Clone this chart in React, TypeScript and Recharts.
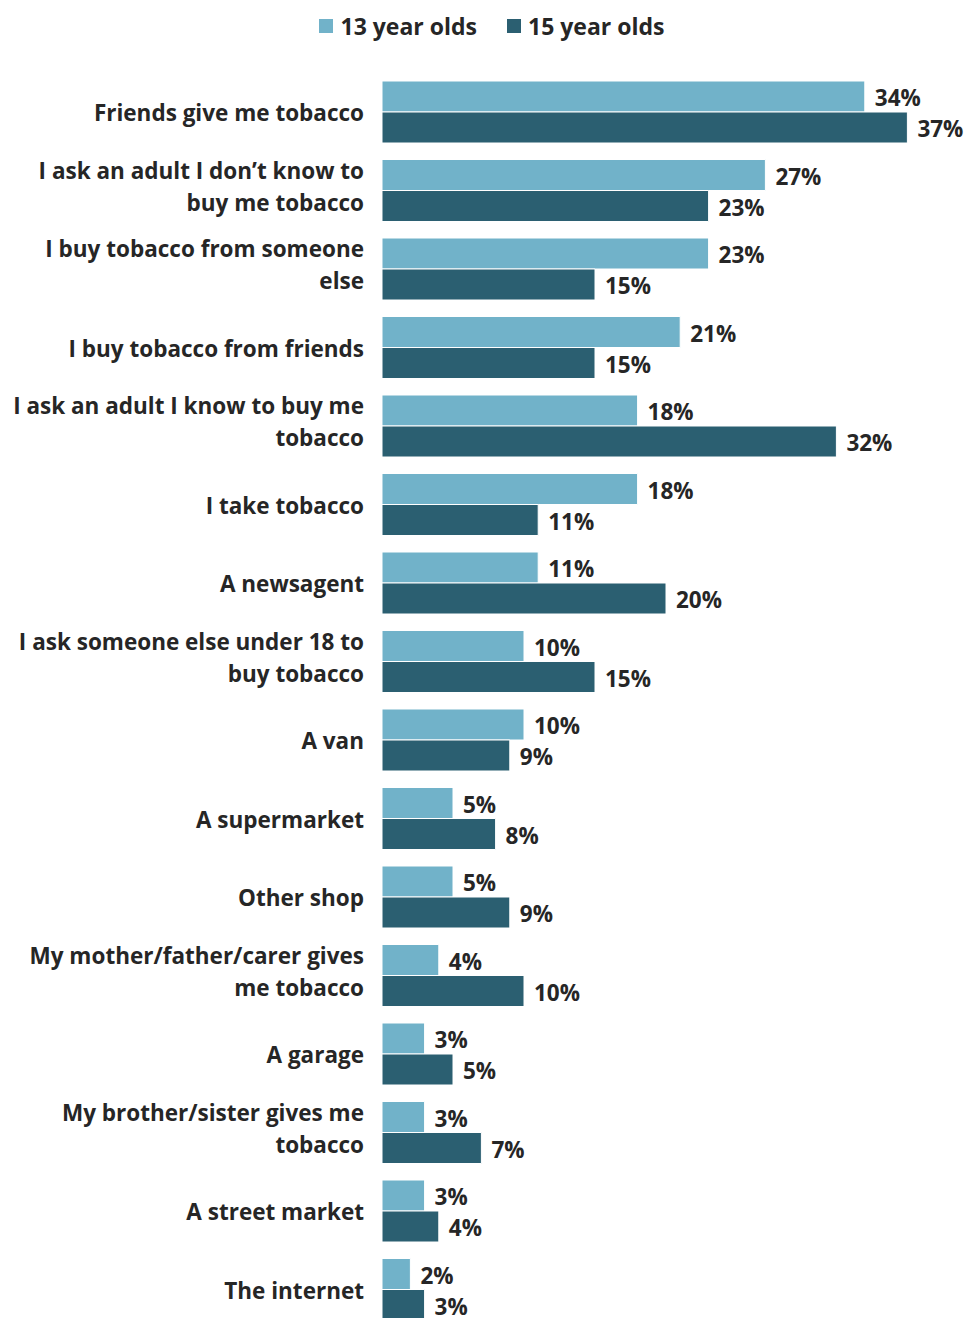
import { BarChart, Bar, XAxis, YAxis, Legend, LabelList } from "recharts";

const categories = [
  "Friends give me tobacco",
  "I ask an adult I don\u2019t know to\nbuy me tobacco",
  "I buy tobacco from someone\nelse",
  "I buy tobacco from friends",
  "I ask an adult I know to buy me\ntobacco",
  "I take tobacco",
  "A newsagent",
  "I ask someone else under 18 to\nbuy tobacco",
  "A van",
  "A supermarket",
  "Other shop",
  "My mother/father/carer gives\nme tobacco",
  "A garage",
  "My brother/sister gives me\ntobacco",
  "A street market",
  "The internet",
];

const age13 = [34, 27, 23, 21, 18, 18, 11, 10, 10, 5, 5, 4, 3, 3, 3, 2];
const age15 = [37, 23, 15, 15, 32, 11, 20, 15, 9, 8, 9, 10, 5, 7, 4, 3];

const seriesNames = ["13 year olds", "15 year olds"];

const LIGHT = "#71b2c9";
const DARK = "#2b5f71";
const TEXT = "#262626";
const FONT = "'Open Sans', 'Noto Sans', sans-serif";

const data = categories.map((name, i) => ({ name, y13: age13[i], y15: age15[i] }));

const CategoryTick = ({ x, y, payload }: any) => {
  const lines: string[] = String(payload.value).split("\n");
  const lh = 32;
  // wrapped labels sit a little above the band centre, like the original
  const lift = lines.length > 1 ? 5 : 0;
  return (
    <text x={x} y={y + 9 - lift} textAnchor="end" fill={TEXT} fontSize={22.5} fontWeight={700} fontFamily={FONT}>
      {lines.map((l, i) => (
        <tspan key={i} x={x} dy={i === 0 ? -((lines.length - 1) * lh) / 2 : lh}>
          {l}
        </tspan>
      ))}
    </text>
  );
};

const LegendContent = () => (
  <div
    style={{
      position: "relative",
      top: -17,
      height: 73,
      boxSizing: "border-box",
      paddingTop: 12,
      paddingLeft: 16,
      display: "flex",
      justifyContent: "center",
      gap: 30,
      fontFamily: FONT,
      fontSize: 23,
      fontWeight: 700,
      color: TEXT,
      lineHeight: "28px",
    }}
  >
    {seriesNames.map((s, i) => (
      <div key={s} style={{ display: "flex", alignItems: "center" }}>
        <span style={{ width: 14, height: 14, background: i === 0 ? LIGHT : DARK, marginRight: 7, display: "inline-block" }} />
        {s}
      </div>
    ))}
  </div>
);

const valueLabel = (key: string) => (
  <LabelList
    dataKey={key}
    position="right"
    offset={10}
    dy={2}
    formatter={(v: any) => `${v}%`}
    fill={TEXT}
    fontSize={22.5}
    fontWeight={700}
    fontFamily={FONT}
  />
);

export default function App() {
  return (
    <div style={{ position: "absolute", left: 0, top: 0, width: 968, height: 1318, overflow: "hidden", background: "#fff" }}>
      <BarChart
        width={968}
        height={1340}
        data={data}
        layout="vertical"
        margin={{ top: 0, right: 18, bottom: 11, left: 0 }}
        barCategoryGap={8}
        barGap={0}
      >
        <Legend verticalAlign="top" content={<LegendContent />} wrapperStyle={{ top: 0, left: 0, width: 968 }} />
        <XAxis type="number" domain={[0, 40]} hide />
        <YAxis
          type="category"
          dataKey="name"
          width={382}
          axisLine={false}
          tickLine={false}
          tickSize={0}
          tickMargin={18}
          interval={0}
          tick={<CategoryTick />}
        />
        <Bar dataKey="y13" name={seriesNames[0]} fill={LIGHT} stroke="#fff" strokeWidth={1} isAnimationActive={false}>
          {valueLabel("y13")}
        </Bar>
        <Bar dataKey="y15" name={seriesNames[1]} fill={DARK} stroke="#fff" strokeWidth={1} isAnimationActive={false}>
          {valueLabel("y15")}
        </Bar>
      </BarChart>
    </div>
  );
}
